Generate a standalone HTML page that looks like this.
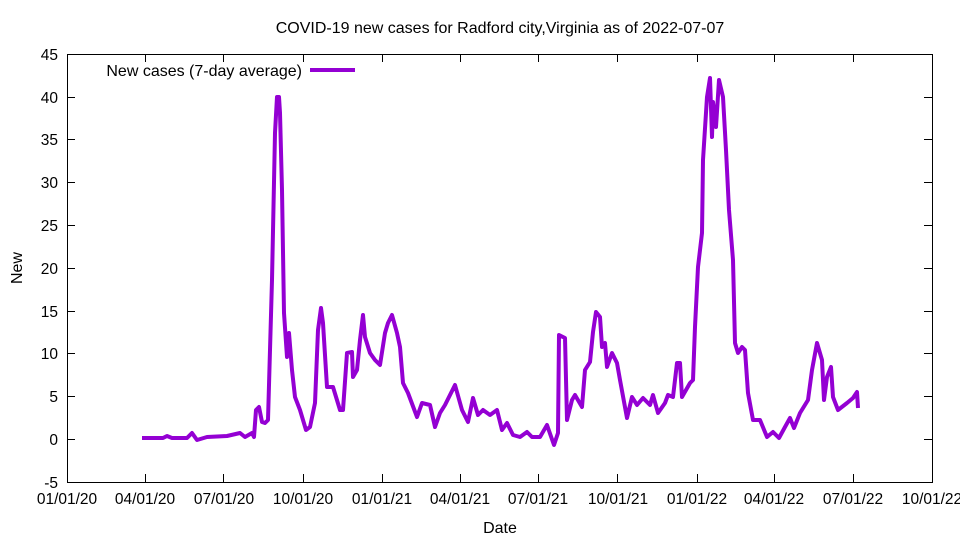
<!DOCTYPE html>
<html><head><meta charset="utf-8"><style>body{margin:0;background:#fff}svg{display:block}text{font-family:"Liberation Sans",sans-serif;font-size:15.5px;fill:#000}.b{font-size:16px}</style></head>
<body>
<svg width="960" height="540" xmlns="http://www.w3.org/2000/svg">
<rect width="960" height="540" fill="#fff"/>
<text class="b" x="500" y="33" text-anchor="middle">COVID-19 new cases for Radford city,Virginia as of 2022-07-07</text>
<g stroke="#000" stroke-width="1" fill="none">
<rect x="67.5" y="54.5" width="865" height="428"/>
<path d="M67 439.5h8M932 439.5h-8M67 482.5h8M932 482.5h-8M67 396.5h8M932 396.5h-8M67 353.5h8M932 353.5h-8M67 311.5h8M932 311.5h-8M67 268.5h8M932 268.5h-8M67 225.5h8M932 225.5h-8M67 182.5h8M932 182.5h-8M67 139.5h8M932 139.5h-8M67 97.5h8M932 97.5h-8M67 54.5h8M932 54.5h-8"/>
<path d="M145.5 482v-8M145.5 54v8M223.5 482v-8M223.5 54v8M303.5 482v-8M303.5 54v8M382.5 482v-8M382.5 54v8M460.5 482v-8M460.5 54v8M538.5 482v-8M538.5 54v8M617.5 482v-8M617.5 54v8M697.5 482v-8M697.5 54v8M774.5 482v-8M774.5 54v8M853.5 482v-8M853.5 54v8"/>
</g>
<g text-anchor="end">
<text x="58" y="488">-5</text><text x="58" y="445">0</text><text x="58" y="402">5</text><text x="58" y="359">10</text><text x="58" y="317">15</text><text x="58" y="274">20</text><text x="58" y="231">25</text><text x="58" y="188">30</text><text x="58" y="145">35</text><text x="58" y="103">40</text><text x="58" y="60">45</text>
</g>
<g text-anchor="middle">
<text x="67" y="504">01/01/20</text><text x="145" y="504">04/01/20</text><text x="224" y="504">07/01/20</text><text x="303" y="504">10/01/20</text><text x="382" y="504">01/01/21</text><text x="460" y="504">04/01/21</text><text x="538" y="504">07/01/21</text><text x="618" y="504">10/01/21</text><text x="697" y="504">01/01/22</text><text x="774" y="504">04/01/22</text><text x="853" y="504">07/01/22</text><text x="932" y="504">10/01/22</text>
<text class="b" x="500" y="533">Date</text>
<text class="b" x="22" y="268" transform="rotate(-90 22 268)">New</text>
</g>
<text class="b" x="302" y="76" text-anchor="end">New cases (7-day average)</text>
<path d="M310 70h45" stroke="#9400d3" stroke-width="4"/>
<polyline fill="none" stroke="#9400d3" stroke-width="4" stroke-linejoin="round" points="142,438 163,438 167,436 172,438 187,438 192,433 197,440 207,437 227,436 240,433 245,437 252,433 254,437 256,410 259,407 262,422 265,423 268,420 272,280 275,133 277,97 279,97 280,113 282,190 284,313 287,357 289,333 292,370 295,397 300,410 306,430 310,427 315,403 318,330 321,308 323,323 327,387 333,387 340,410 343,410 347,353 352,352 353,377 357,370 360,340 363,315 365,337 370,353 375,360 380,365 385,333 388,323 392,315 397,333 400,347 403,383 408,393 417,417 422,403 430,405 435,427 440,413 445,405 450,395 455,385 462,410 468,422 473,398 478,415 483,410 490,415 497,410 502,430 507,423 513,435 520,437 527,432 532,437 540,437 547,425 554,445 558,433 559,335 565,338 567,420 572,400 575,395 582,407 585,370 590,362 593,332 596,312 600,317 602,347 605,343 607,367 612,353 617,363 620,380 627,418 632,397 637,405 643,398 650,405 653,395 658,413 665,403 668,395 673,397 677,363 680,363 682,397 690,383 693,380 695,327 698,267 702,233 703,160 707,97 710,78 712,137 713,102 716,127 719,80 723,97 726,150 729,210 733,260 735,343 738,353 742,347 745,350 748,393 753,420 760,420 767,437 773,432 779,438 785,427 790,418 794,428 800,413 808,400 812,370 817,343 822,360 824,400 827,377 831,367 833,397 838,410 847,403 853,398 857,392 858,408"/>
</svg>
</body></html>
